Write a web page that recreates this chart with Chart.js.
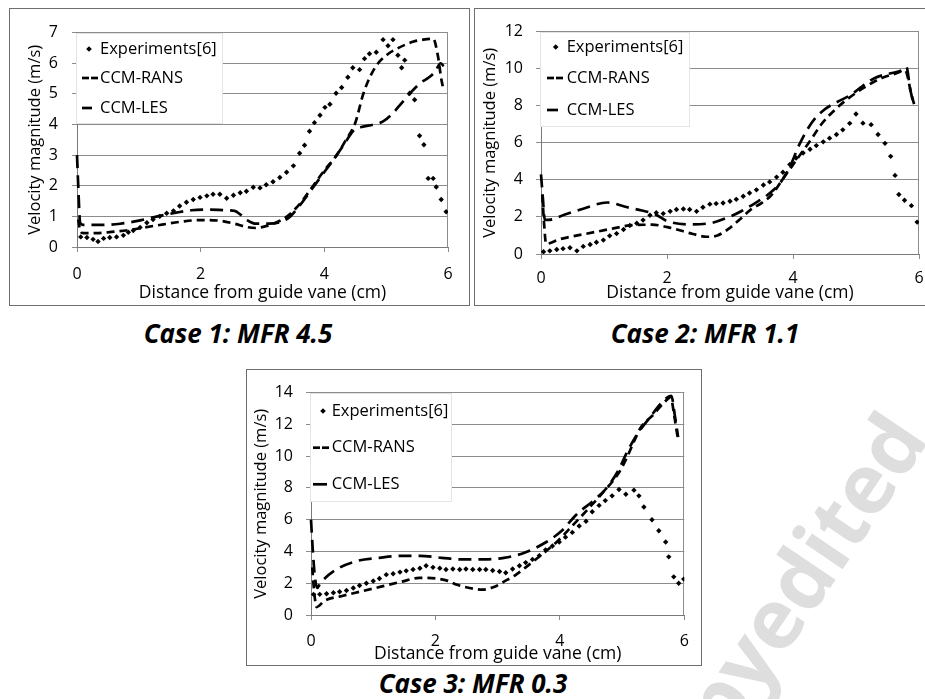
<!DOCTYPE html>
<html>
<head>
<meta charset="utf-8">
<script src="https://cdn.jsdelivr.net/npm/chart.js@4.4.1/dist/chart.umd.min.js"></script>
<style>
  html, body { margin: 0; padding: 0; background: #fff; }
  body { width: 925px; height: 699px; overflow: hidden; position: relative; }
  .frame { position: absolute; box-sizing: border-box; border: 1px solid #6e6e6e; background: #fff; }
  .frame canvas { position: absolute; left: 0; top: 0; }
  .caption { position: absolute; width: 320px; text-align: center; color: #000;
             font: italic 700 26px/30px "Open Sans", sans-serif; }
  #watermark { position: absolute; left: 668px; top: 754px; white-space: nowrap; color: #dedede;
               font: 700 83px/83px "Open Sans", sans-serif; transform-origin: 0 73.7px; transform: rotate(-56deg); }
</style>
</head>
<body>
<div id="watermark">Copyedited</div>
<div class="frame" style="left:9px;top:8px;width:461px;height:298px"><canvas id="case1" width="459" height="296"></canvas></div>
<div class="frame" style="left:474px;top:8px;width:462px;height:298px"><canvas id="case2" width="460" height="296"></canvas></div>
<div class="frame" style="left:246px;top:369px;width:456px;height:297px"><canvas id="case3" width="454" height="295"></canvas></div>
<div class="caption" style="left:78px;top:318px">Case 1: MFR 4.5</div>
<div class="caption" style="left:545px;top:318px">Case 2: MFR 1.1</div>
<div class="caption" style="left:313px;top:668px">Case 3: MFR 0.3</div>
<script>
const seriesNames = ['Experiments[6]', 'CCM-RANS', 'CCM-LES'];
const xTitle = 'Distance from guide vane (cm)';
const yTitle = 'Velocity magnitude (m/s)';
const xTickValues = [0, 2, 4, 6];
const case1YTicks = [0, 1, 2, 3, 4, 5, 6, 7];
const case2YTicks = [0, 2, 4, 6, 8, 10, 12];
const case3YTicks = [0, 2, 4, 6, 8, 10, 12, 14];

// [distance cm, velocity m/s]
const case1Exp = [[0.06,0.33],[0.16,0.31],[0.26,0.25],[0.34,0.18],[0.43,0.28],[0.53,0.31],[0.64,0.33],[0.75,0.38],
  [0.83,0.48],[0.91,0.54],[1.02,0.64],[1.13,0.79],[1.23,0.90],[1.34,1.00],[1.45,1.10],[1.56,1.18],[1.66,1.34],
  [1.77,1.46],[1.88,1.55],[1.99,1.62],[2.10,1.67],[2.20,1.72],[2.31,1.72],[2.42,1.59],[2.53,1.69],[2.64,1.77],
  [2.74,1.82],[2.85,1.95],[2.96,1.93],[3.06,2.03],[3.17,2.13],[3.28,2.27],[3.39,2.44],[3.50,2.65],[3.60,3.06],
  [3.68,3.32],[3.76,3.78],[3.84,4.06],[3.93,4.30],[4.01,4.56],[4.09,4.66],[4.19,5.02],[4.28,5.21],[4.38,5.54],
  [4.46,5.85],[4.57,5.79],[4.65,6.15],[4.73,6.31],[4.84,6.36],[4.95,6.77],[5.03,6.57],[5.11,6.77],[5.19,6.26],
  [5.25,5.85],[5.30,6.10],[5.38,5.02],[5.46,4.81],[5.54,3.63],[5.61,3.34],[5.68,2.24],[5.76,2.24],[5.81,1.96],
  [5.89,1.55],[5.97,1.15]];
const case1Rans = [[0.02,0.9],[0.05,0.55],[0.1,0.45],[0.3,0.45],[0.6,0.5],[0.9,0.57],[1.1,0.64],[1.4,0.74],
  [1.7,0.83],[2.0,0.88],[2.3,0.86],[2.55,0.76],[2.75,0.65],[2.9,0.62],[3.05,0.68],[3.2,0.78],[3.4,1.0],[3.6,1.4],
  [3.82,2.0],[4.0,2.5],[4.2,3.0],[4.35,3.5],[4.5,4.05],[4.63,5.0],[4.75,5.6],[4.87,6.0],[5.03,6.3],[5.2,6.5],
  [5.43,6.7],[5.6,6.77],[5.76,6.8],[5.84,6.2],[5.89,5.5],[5.92,5.2]];
const case1Les = [[0,3.0],[0.02,2.0],[0.05,0.8],[0.1,0.72],[0.4,0.72],[0.7,0.76],[1.0,0.86],[1.3,1.0],[1.6,1.12],
  [1.85,1.2],[2.1,1.22],[2.4,1.2],[2.55,1.18],[2.65,1.05],[2.75,0.88],[2.9,0.76],[3.1,0.76],[3.3,0.82],[3.45,1.0],
  [3.6,1.35],[3.82,1.95],[4.0,2.45],[4.2,3.0],[4.35,3.45],[4.48,3.82],[4.6,3.92],[4.8,4.0],[4.95,4.1],[5.1,4.35],
  [5.25,4.7],[5.4,5.05],[5.55,5.35],[5.7,5.55],[5.8,5.75],[5.88,6.0],[5.93,5.9]];

const case2Exp = [[0.04,0.12],[0.14,0.17],[0.25,0.24],[0.35,0.29],[0.46,0.34],[0.57,0.17],[0.67,0.41],[0.78,0.51],
  [0.88,0.63],[0.99,0.75],[1.09,0.98],[1.20,1.10],[1.31,1.32],[1.41,1.54],[1.52,1.66],[1.62,1.83],[1.73,2.09],
  [1.83,2.23],[1.94,2.18],[2.05,2.30],[2.15,2.40],[2.26,2.43],[2.36,2.40],[2.47,2.30],[2.57,2.52],[2.68,2.69],
  [2.78,2.72],[2.89,2.75],[3.00,2.85],[3.10,2.95],[3.21,3.12],[3.31,3.29],[3.42,3.46],[3.53,3.72],[3.63,3.89],
  [3.74,4.15],[3.84,4.41],[3.95,4.83],[4.05,5.18],[4.16,5.45],[4.27,5.65],[4.37,5.85],[4.48,6.05],[4.58,6.25],
  [4.69,6.45],[4.79,6.70],[4.90,7.05],[5.00,7.55],[5.11,7.06],[5.24,6.98],[5.35,6.45],[5.46,5.97],[5.55,5.27],
  [5.62,4.24],[5.68,3.21],[5.77,2.90],[5.88,2.61],[5.97,1.72]];
const case2Rans = [[0.02,3.2],[0.05,1.6],[0.08,0.55],[0.3,0.8],[0.67,1.06],[1.06,1.32],[1.41,1.54],[1.76,1.58],
  [2.06,1.41],[2.41,1.08],[2.63,0.93],[2.8,1.0],[2.97,1.34],[3.15,1.85],[3.32,2.37],[3.5,2.75],[3.65,3.15],
  [3.87,4.2],[4.06,5.1],[4.27,6.1],[4.45,7.0],[4.67,7.8],[4.88,8.4],[5.14,9.0],[5.41,9.5],[5.62,9.73],[5.78,9.9],
  [5.88,8.6],[5.93,8.0]];
const case2Les = [[0,4.3],[0.03,3.0],[0.06,1.85],[0.12,1.84],[0.38,2.13],[0.67,2.44],[1.05,2.78],[1.37,2.52],
  [1.6,2.35],[1.81,2.15],[2.0,1.78],[2.34,1.6],[2.68,1.66],[3.02,2.05],[3.2,2.35],[3.4,2.75],[3.6,3.2],[3.8,3.85],
  [3.95,4.7],[4.1,5.9],[4.3,7.1],[4.5,7.8],[4.7,8.2],[4.9,8.55],[5.1,9.05],[5.3,9.5],[5.55,9.75],[5.72,9.9],
  [5.8,10.1],[5.86,8.9],[5.92,8.0]];

const case3Exp = [[0.04,1.30],[0.14,1.30],[0.25,1.34],[0.36,1.40],[0.46,1.46],[0.57,1.54],[0.68,1.70],[0.78,1.86],
  [0.89,2.00],[1.00,2.14],[1.10,2.30],[1.21,2.54],[1.32,2.60],[1.43,2.70],[1.53,2.78],[1.64,2.86],[1.75,2.94],
  [1.85,3.10],[1.96,3.00],[2.07,2.94],[2.17,2.86],[2.28,2.90],[2.39,2.86],[2.49,2.90],[2.60,2.86],[2.71,2.86],
  [2.81,2.86],[2.92,2.80],[3.03,2.74],[3.13,2.66],[3.24,2.90],[3.35,3.10],[3.45,3.30],[3.56,3.50],[3.67,3.74],
  [3.77,4.10],[3.88,4.34],[3.99,4.60],[4.09,4.90],[4.20,5.20],[4.31,5.60],[4.42,5.90],[4.52,6.50],[4.63,6.90],
  [4.73,7.20],[4.84,7.50],[4.95,7.90],[5.06,7.60],[5.19,7.86],[5.27,7.50],[5.35,6.80],[5.48,6.00],[5.59,5.30],
  [5.70,4.60],[5.75,3.66],[5.83,2.40],[5.91,2.00],[5.99,2.26]];
const case3Rans = [[0.02,3.0],[0.05,1.5],[0.09,0.5],[0.22,0.9],[0.5,1.2],[0.82,1.5],[1.14,1.8],[1.46,2.1],
  [1.74,2.34],[2.0,2.3],[2.2,2.15],[2.35,1.9],[2.55,1.7],[2.75,1.6],[2.94,1.76],[3.1,2.1],[3.28,2.5],[3.45,3.0],
  [3.66,3.65],[3.95,4.6],[4.22,5.7],[4.46,6.7],[4.7,7.75],[4.94,8.9],[5.07,9.85],[5.2,11.0],[5.3,11.8],[5.5,12.6],
  [5.68,13.4],[5.78,13.7],[5.84,12.5],[5.9,11.0]];
const case3Les = [[0,6.0],[0.03,4.0],[0.06,2.5],[0.1,1.7],[0.15,2.0],[0.38,2.8],[0.74,3.4],[1.1,3.6],[1.46,3.72],
  [1.75,3.72],[2.1,3.6],[2.43,3.5],[2.8,3.5],[3.1,3.6],[3.42,3.9],[3.74,4.5],[4.03,5.3],[4.26,6.3],[4.54,7.2],
  [4.73,7.9],[4.94,9.1],[5.06,10.1],[5.23,11.3],[5.46,12.5],[5.62,13.3],[5.79,13.8],[5.85,12.5],[5.9,11.2]];

Chart.defaults.font.family = '"Open Sans", sans-serif';
Chart.defaults.color = '#000';

const GRID = '#8c8c8c';
const RANS_DASH = [8, 5];
const LES_DASH = [13, 7];

function toPoints(pairs) {
  return pairs.map(p => ({ x: p[0], y: p[1] }));
}

// right border of the plot area + the boxed legend in its top-left corner
const boxLegend = {
  id: 'boxLegend',
  beforeDatasetsDraw(chart) {
    const { ctx, chartArea: a } = chart;
    ctx.save();
    ctx.strokeStyle = GRID;
    ctx.lineWidth = 1;
    ctx.beginPath();
    ctx.moveTo(Math.round(a.right) - 0.5, a.top);
    ctx.lineTo(Math.round(a.right) - 0.5, a.bottom);
    ctx.stroke();
    ctx.restore();
  },
  afterDraw(chart, args, opts) {
    const { ctx, chartArea: a } = chart;
    const left = Math.round(a.left), top = Math.round(a.top);
    ctx.save();
    ctx.fillStyle = '#fff';
    ctx.fillRect(left - 1, top + 1, opts.width + 1, opts.height - 1);
    ctx.strokeStyle = '#e4e4e4';
    ctx.lineWidth = 1;
    ctx.strokeRect(left - 0.5, top + 0.5, opts.width, opts.height);
    ctx.font = '16.5px "Open Sans"';
    ctx.textBaseline = 'middle';
    ctx.fillStyle = '#000';
    ctx.strokeStyle = '#000';
    ctx.lineWidth = 2.7;
    seriesNames.forEach((name, i) => {
      const y = top + opts.rows[i];
      if (i === 0) {
        const cx = left + opts.dotX, r = 2.8;
        ctx.beginPath();
        ctx.moveTo(cx, y - r); ctx.lineTo(cx + r, y); ctx.lineTo(cx, y + r); ctx.lineTo(cx - r, y);
        ctx.closePath();
        ctx.fill();
      } else {
        const segs = i === 1 ? opts.shortDashes : [opts.longDash];
        segs.forEach(s => {
          ctx.beginPath();
          ctx.moveTo(left + s[0], y);
          ctx.lineTo(left + s[1], y);
          ctx.stroke();
        });
      }
      ctx.fillText(name, left + opts.textX, y);
    });
    ctx.restore();
  }
};

function buildChart(id, exp, rans, les, yTicks, g) {
  const yMax = yTicks[yTicks.length - 1];
  return new Chart(document.getElementById(id), {
    type: 'scatter',
    data: {
      datasets: [
        { label: seriesNames[0], data: toPoints(exp), showLine: false, pointStyle: 'rectRot',
          pointRadius: 2.7, pointHoverRadius: 2.7, backgroundColor: '#000', borderColor: '#000', borderWidth: 0 },
        { label: seriesNames[1], data: toPoints(rans), showLine: true, pointRadius: 0, pointHoverRadius: 0,
          borderColor: '#000', borderWidth: 2.7, borderDash: RANS_DASH, cubicInterpolationMode: 'monotone', clip: 4 },
        { label: seriesNames[2], data: toPoints(les), showLine: true, pointRadius: 0, pointHoverRadius: 0,
          borderColor: '#000', borderWidth: 2.7, borderDash: LES_DASH, cubicInterpolationMode: 'monotone', clip: 4 }
      ]
    },
    options: {
      responsive: false,
      animation: false,
      events: [],
      layout: { padding: { left: 0, top: g.top, right: g.right, bottom: 0 } },
      plugins: {
        legend: { display: false },
        tooltip: { enabled: false },
        boxLegend: g.legend
      },
      scales: {
        x: {
          type: 'linear', min: 0, max: 6,
          afterBuildTicks: s => { s.ticks = xTickValues.map(v => ({ value: v })); },
          afterFit: s => { s.height = g.xH; },
          ticks: { padding: g.xTickPad, font: { size: 16 }, color: '#000' },
          grid: { display: true, drawOnChartArea: false, drawTicks: true, tickLength: 5, tickColor: GRID },
          border: { display: true, color: '#7a7a7a', width: 1 },
          title: { display: true, text: xTitle, font: { size: 17.5 }, color: '#000',
                   padding: { top: 0, bottom: g.xTitlePad } }
        },
        y: {
          type: 'linear', min: 0, max: yMax,
          afterBuildTicks: s => { s.ticks = yTicks.map(v => ({ value: v })); },
          afterFit: s => { s.width = g.yW; },
          ticks: { padding: g.yTickPad, font: { size: 16 }, color: '#000' },
          grid: { color: GRID, lineWidth: 1, tickLength: 5, tickColor: GRID },
          border: { display: true, color: '#7a7a7a', width: 1 },
          title: { display: true, text: yTitle, font: { size: 16.5 }, color: '#000',
                   padding: { top: g.yTitlePad, bottom: 0 } }
        }
      }
    },
    plugins: [boxLegend]
  });
}

buildChart('case1', case1Exp, case1Rans, case1Les, case1YTicks, {
  top: 11, right: 21, yW: 67, xH: 58, xTickPad: 12.4, xTitlePad: 1.5, yTickPad: 14, yTitlePad: 15.1,
  legend: { width: 146, height: 90, rows: [16, 45, 75], dotX: 12, shortDashes: [[5, 12], [14, 21]],
            longDash: [5, 15], textX: 23 }
});
buildChart('case2', case2Exp, case2Rans, case2Les, case2YTicks, {
  top: 12, right: 16, yW: 66, xH: 51, xTickPad: 9.4, xTitlePad: 1.2, yTickPad: 13, yTitlePad: 5.1,
  legend: { width: 149, height: 94, rows: [15, 46, 78], dotX: 14.7, shortDashes: [[6, 13], [15, 22]],
            longDash: [6, 17], textX: 25.7 }
});
buildChart('case3', case3Exp, case3Rans, case3Les, case3YTicks, {
  top: 12, right: 15, yW: 64, xH: 50, xTickPad: 12.1, xTitlePad: 0.5, yTickPad: 13, yTitlePad: 4.8,
  legend: { width: 141, height: 108, rows: [18, 54.7, 91.3], dotX: 12, shortDashes: [[2, 9], [11, 18]],
            longDash: [2, 16], textX: 20.7 }
});
</script>
</body>
</html>
